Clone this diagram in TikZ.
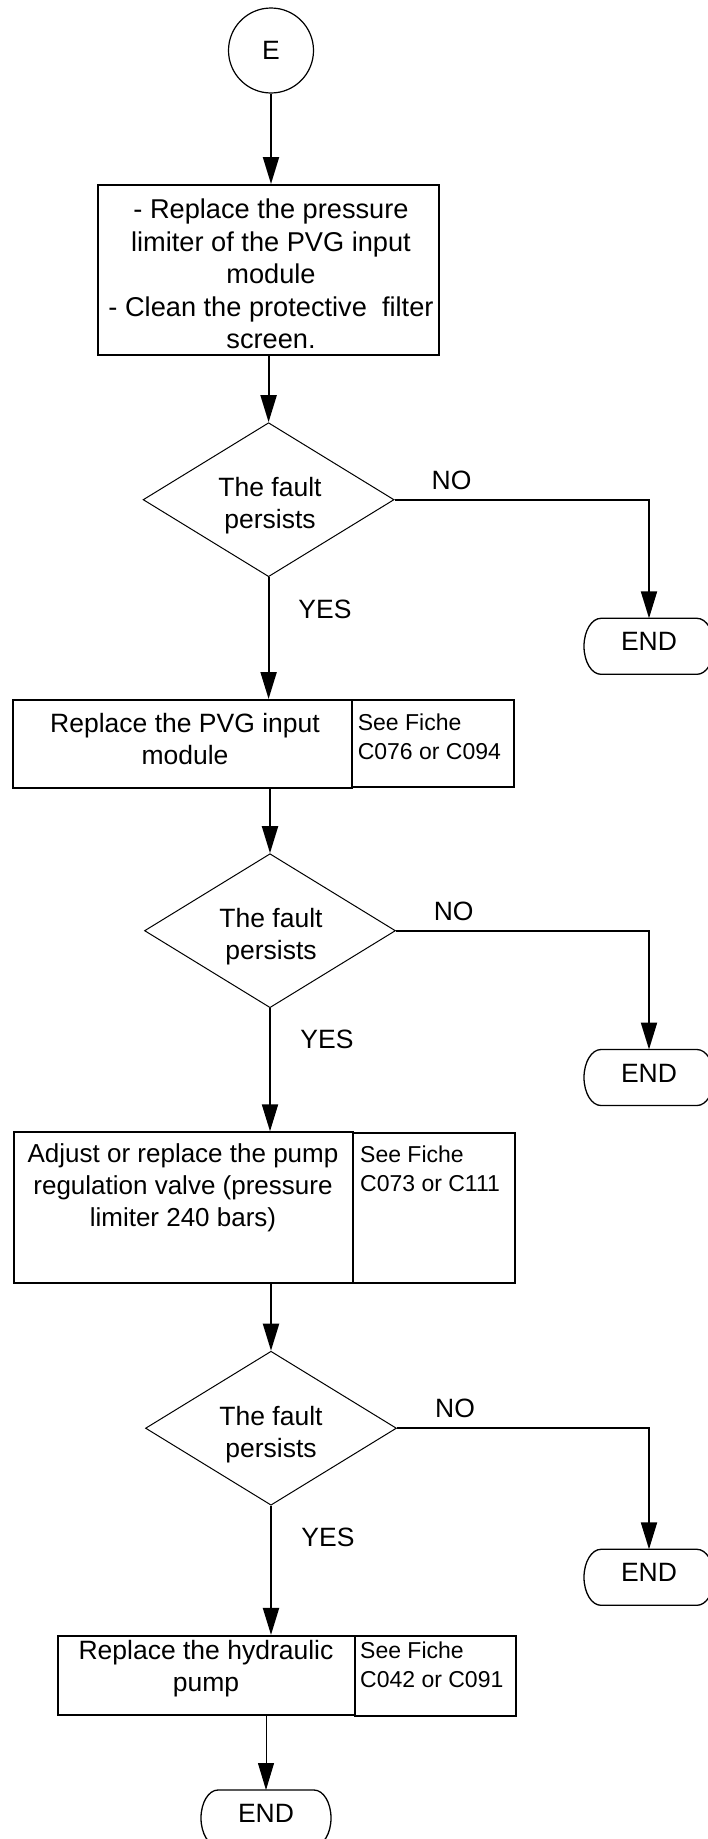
\documentclass[tikz,border=0pt]{standalone}
\usepackage{fontspec}
\setmainfont{Liberation Sans}
\usetikzlibrary{arrows.meta,shapes.geometric}
\newcommand\termoutline[1]{%
  \draw[termline] ([xshift=17pt]#1.north west) -- ([xshift=-17pt]#1.north east)
    arc[start angle=90, end angle=-90, x radius=17pt, y radius=28pt]
    -- ([xshift=17pt]#1.south west)
    arc[start angle=270, end angle=90, x radius=17pt, y radius=28pt] -- cycle;}
\begin{document}
\begin{tikzpicture}[x=1pt,y=-1pt,
  every node/.style={font=\fontsize{26.5}{32}\selectfont},
  startc/.style={circle, draw, line width=1.2pt, minimum size=85pt, inner sep=0pt},
  procbox/.style={rectangle, draw, line width=2pt, inner sep=0pt},
  decision/.style={diamond, draw, line width=1pt, aspect=1.63, minimum width=251pt, minimum height=154pt, inner sep=0pt},
  termnode/.style={rectangle, minimum width=130pt, minimum height=56pt, inner sep=0pt, outer sep=0pt, text depth=9pt},
  termline/.style={line width=1.3pt},
  txt/.style={align=center, inner sep=0pt},
  sidetxt/.style={align=left, inner sep=0pt, anchor=west, font=\fontsize{23}{29}\selectfont},
  flow/.style={line width=2pt, -{Triangle[length=27pt,width=16pt]}},
  thinflow/.style={line width=1pt, -{Triangle[length=27pt,width=16pt]}}
]
\useasboundingbox (0,0) rectangle (708,1839);
\clip (0,0) rectangle (708,1839);

% start
\node[startc] (E) at (271,50.5) {E};

% box 1
\node[procbox, minimum width=340.4pt, minimum height=170pt] (b1) at (268.6,270) {};
\node[txt, font=\fontsize{27.2}{32.5}\selectfont] (b1t) at (271,274) {- Replace the pressure\\limiter of the PVG input\\module\\- Clean the protective~ filter\\screen.};

% decision 1
\node[decision] (d1) at (268.6,499.7) {};
\node[txt] (d1t) at (270,506) {The fault\\persists};
\node[termnode] (e1) at (649,646.3) {END};
\termoutline{e1}
\node[txt] (no1) at (451.5,480) {NO};
\node[txt] (yes1) at (325,609.3) {YES};

% box 2
\node[procbox, minimum width=339.1pt, minimum height=87.7pt] (b2) at (182.15,743.85) {};
\node[procbox, minimum width=162.1pt, minimum height=86.7pt] (r2) at (432.75,743.35) {};
\node[txt] (b2t) at (185,738.8) {Replace the PVG input\\module};
\node[sidetxt] (r2t) at (357.6,736.8) {See Fiche\\C076 or C094};

% decision 2
\node[decision] (d2) at (270,930.7) {};
\node[txt] (d2t) at (271,936.5) {The fault\\persists};
\node[termnode] (e2) at (649,1077.5) {END};
\termoutline{e2}
\node[txt] (no2) at (453.7,911) {NO};
\node[txt] (yes2) at (327,1039.3) {YES};

% box 3
\node[procbox, minimum width=339.5pt, minimum height=151pt] (b3) at (183.25,1207.8) {};
\node[procbox, minimum width=162pt, minimum height=149.4pt] (r3) at (434,1208) {};
\node[txt, font=\fontsize{26}{32}\selectfont] (b3t) at (183,1187.7) {Adjust or replace the pump\\regulation valve (pressure\\limiter 240 bars)};
\node[sidetxt] (r3t) at (360,1168.8) {See Fiche\\C073 or C111};

% decision 3
\node[decision] (d3) at (271,1428.2) {};
\node[txt] (d3t) at (271,1435) {The fault\\persists};
\node[termnode] (e3) at (649,1577.3) {END};
\termoutline{e3}
\node[txt] (no3) at (455,1408.3) {NO};
\node[txt] (yes3) at (328,1537.2) {YES};

% box 4
\node[procbox, minimum width=297.1pt, minimum height=79pt] (b4) at (206.35,1675.4) {};
\node[procbox, minimum width=161pt, minimum height=80.1pt] (r4) at (435.5,1676) {};
\node[txt] (b4t) at (206,1668.7) {Replace the hydraulic\\pump};
\node[sidetxt] (r4t) at (360,1665.2) {See Fiche\\C042 or C091};

% final end
\node[termnode] (e4) at (266,1818) {END};
\termoutline{e4}

% connectors
\draw[flow] (E.south) -- (E.south |- b1.north);
\draw[flow] (b1.south) -- (b1.south |- d1.north);
\draw[flow] (d1.south) -- (d1.south |- b2.north);
\draw[flow] (d1.east) -| (e1.north);
\draw[flow] (d2.north |- b2.south) -- (d2.north);
\draw[flow] (d2.south) -- (d2.south |- b3.north);
\draw[flow] (d2.east) -| (e2.north);
\draw[flow] (d3.north |- b3.south) -- (d3.north);
\draw[flow] (d3.south) -- (d3.south |- b4.north);
\draw[flow] (d3.east) -| (e3.north);
\draw[thinflow] (e4.north |- b4.south) -- (e4.north);
\end{tikzpicture}
\end{document}
